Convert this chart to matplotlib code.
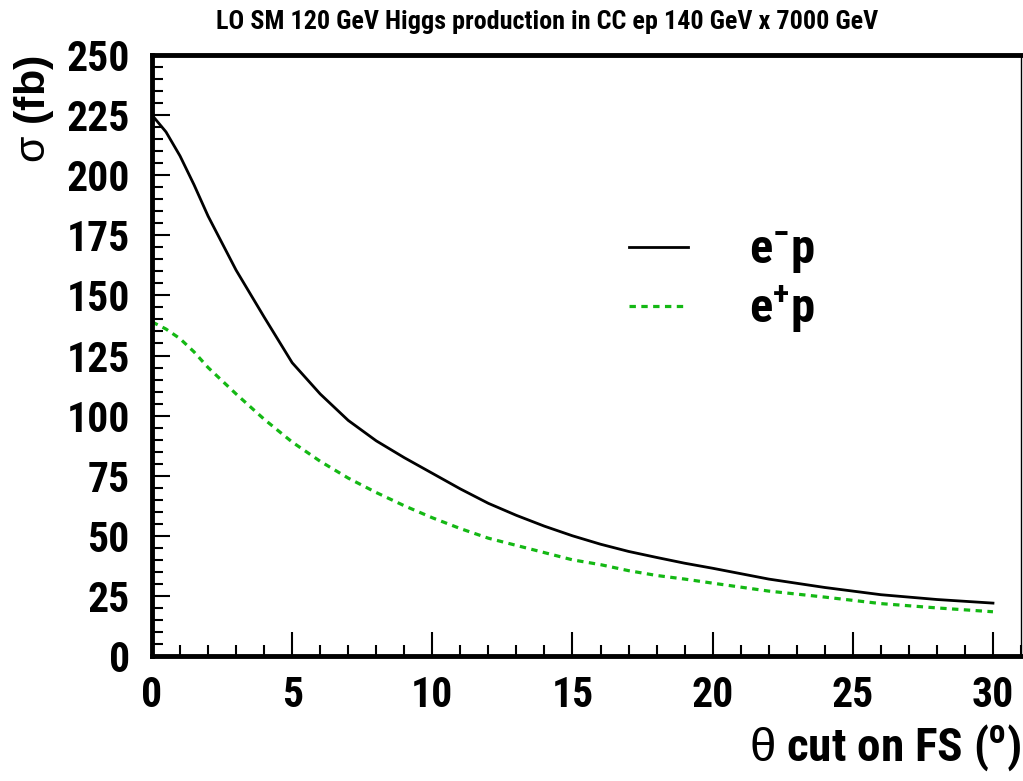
import matplotlib
matplotlib.use("Agg")
import matplotlib.pyplot as plt
from matplotlib import font_manager
from matplotlib.ticker import MultipleLocator

names = {f.name for f in font_manager.fontManager.ttflist}
NARROW = "Liberation Sans"
for cand in ["Liberation Sans Narrow", "Roboto Condensed", "Archivo Narrow",
             "PT Sans Narrow", "Open Sans Condensed", "Sofia Sans Semi Condensed"]:
    if cand in names:
        NARROW = cand
        break

plt.rcParams["font.family"] = [NARROW, "DejaVu Sans"]
plt.rcParams["mathtext.fontset"] = "custom"
plt.rcParams["mathtext.rm"] = NARROW + ":bold"
plt.rcParams["mathtext.bf"] = NARROW + ":bold"
plt.rcParams["mathtext.it"] = NARROW + ":bold"
plt.rcParams["mathtext.sf"] = "Liberation Sans"

# ---- data ----
theta = [0, 0.5, 1, 1.5, 2, 3, 4, 5, 6, 7, 8, 9, 10, 11, 12, 13, 14, 15,
         16, 17, 18, 19, 20, 22, 24, 26, 28, 30]
sigma_em = [225, 218, 208, 196, 183, 160.5, 141, 122, 109, 98, 89.5, 82.5, 76,
            69.5, 63.5, 58.5, 54, 50, 46.5, 43.5, 41, 38.6, 36.5, 32, 28.5,
            25.5, 23.5, 22]
sigma_ep = [139, 136, 132, 126.5, 120, 109, 98.5, 89, 81, 74, 68, 62.5, 57.5,
            53, 49, 46, 43, 40, 38, 35.5, 33.5, 32, 30.3, 27, 24.5, 21.8,
            20, 18.4]
labels = ["e$^{-}$p", "e$^{+}$p"]
title = "LO SM 120 GeV Higgs production in CC ep 140 GeV x 7000 GeV"
xlabel = r"$\mathsf{\theta}$ cut on FS ($^{\rm o}$)"
ylabel = r"$\mathsf{\sigma}$ (fb)"

fig = plt.figure(figsize=(10.23, 7.81), dpi=100)
ax = fig.add_axes([152 / 1023, 1 - 656 / 781, (1021 - 152) / 1023, (656 - 55) / 781])

ax.plot(theta, sigma_em, color="black", lw=2.0, label=labels[0])
ax.plot(theta, sigma_ep, color="#14b814", lw=2.3, linestyle=(0, (2.0, 1.7)),
        label=labels[1])

ax.set_xlim(0, 31)
ax.set_ylim(0, 250)
ax.xaxis.set_major_locator(MultipleLocator(5))
ax.xaxis.set_minor_locator(MultipleLocator(1))
ax.yaxis.set_major_locator(MultipleLocator(25))
ax.yaxis.set_minor_locator(MultipleLocator(5))

ax.tick_params(axis="both", which="both", direction="in", top=False, right=False,
               width=1.5, color="black")
ax.tick_params(axis="x", which="major", length=17, pad=14, labelsize=30)
ax.tick_params(axis="x", which="minor", length=8)
ax.tick_params(axis="y", which="major", length=13, pad=16, labelsize=30)
ax.tick_params(axis="y", which="minor", length=8)
for lab in ax.get_xticklabels() + ax.get_yticklabels():
    lab.set_fontweight("bold")

for side in ("left", "bottom", "top"):
    ax.spines[side].set_linewidth(3.5)
ax.spines["right"].set_linewidth(1.0)

ax.set_xlabel(xlabel, fontsize=34, loc="right", fontweight="bold")
ax.xaxis.set_label_coords(1.0, -0.11)
ax.set_ylabel(ylabel, fontsize=31, loc="top", fontfamily="Liberation Sans",
              fontweight="bold")
ax.yaxis.set_label_coords(-0.11, 1.0)

fig.text(0.535, 0.972, title, ha="center", va="center", fontsize=18.8,
         fontweight="bold")

leg = ax.legend(loc="upper left", bbox_to_anchor=(0.527, 0.745), frameon=False,
                fontsize=35, handlelength=1.2, handletextpad=1.25,
                labelspacing=0.15, borderaxespad=0)
for t in leg.get_texts():
    t.set_fontweight("bold")

fig.savefig("out.png", dpi=100)
